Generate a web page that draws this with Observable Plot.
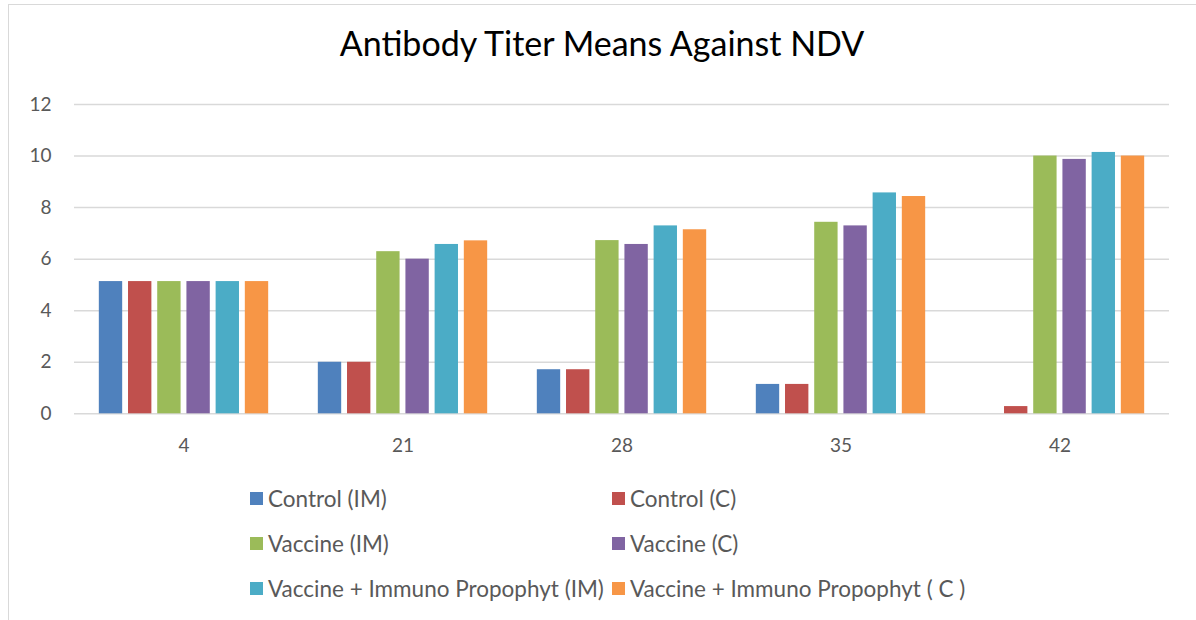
<!DOCTYPE html>
<html>
<head>
<meta charset="utf-8">
<script src="https://cdn.jsdelivr.net/npm/d3@7"></script>
<script src="https://cdn.jsdelivr.net/npm/@observablehq/plot@0.6"></script>
<style>
  html, body { margin: 0; padding: 0; background: #fff; }
  #wrap { position: relative; width: 1196px; height: 620px; overflow: hidden; font-family: Lato, "Open Sans", sans-serif; }
  #frame { position: absolute; left: 8px; top: 4px; right: -10px; bottom: -10px; border-left: 1.5px solid #d9d9d9; border-top: 1.5px solid #d9d9d9; }
  #title { position: absolute; left: 0; width: 1204px; top: 22px; text-align: center; font-size: 34px; color: #000; }
  #chart { position: absolute; left: 0; top: 70px; }
  .leg { position: absolute; display: flex; align-items: center; font-size: 22.5px; color: #595959; white-space: nowrap; }
  .sw { width: 13px; height: 13px; margin-right: 5px; }
</style>
</head>
<body>
<div id="wrap">
  <div id="frame"></div>
  <div id="title">Antibody Titer Means Against NDV</div>
  <div id="chart"></div>
</div>
<script>
const days = [4, 21, 28, 35, 42];
const series = [
  "Control (IM)",
  "Control (C)",
  "Vaccine (IM)",
  "Vaccine (C)",
  "Vaccine + Immuno Propophyt (IM)",
  "Vaccine + Immuno Propophyt ( C )"
];
const colors = ["#4f81bd", "#c0504d", "#9bbb59", "#8064a2", "#4bacc6", "#f79646"];
const controlIM = [5.13, 2.0, 1.71, 1.14, 0];
const controlC = [5.13, 2.0, 1.71, 1.14, 0.28];
const vaccineIM = [5.13, 6.29, 6.72, 7.43, 10.0];
const vaccineC = [5.13, 6.0, 6.57, 7.29, 9.87];
const vipIM = [5.13, 6.57, 7.29, 8.57, 10.14];
const vipC = [5.13, 6.71, 7.14, 8.43, 10.0];
const yTicks = [0, 2, 4, 6, 8, 10, 12];

const seriesValues = [controlIM, controlC, vaccineIM, vaccineC, vipIM, vipC];
const rows = [];
days.forEach((d, i) => {
  series.forEach((s, j) => {
    rows.push({day: d, series: s, value: seriesValues[j][i]});
  });
});

const chart = Plot.plot({
  width: 1196,
  height: 400,
  marginTop: 34,
  marginBottom: 56.7,
  marginLeft: 73,
  marginRight: 26,
  style: {fontFamily: "Lato, 'Open Sans', sans-serif", fontSize: "19px", color: "#595959", background: "transparent"},
  fx: {domain: days, paddingInner: 0, paddingOuter: 0, label: null},
  x: {domain: series, paddingInner: 0.2, paddingOuter: 0.85, axis: null, round: false},
  y: {domain: [0, 12], label: null},
  color: {domain: series, range: colors},
  marks: [
    Plot.ruleY(yTicks, {stroke: "#d9d9d9", strokeWidth: 1.5}),
    Plot.axisY({ticks: yTicks, tickSize: 0, tickPadding: 23, fontSize: 19, fill: "#595959", label: null}),
    Plot.barY(rows, {fx: "day", x: "series", y: "value", fill: "series"}),
    Plot.axisFx({anchor: "bottom", tickSize: 0, tickPadding: 25, fontSize: 19, label: null, fill: "#595959"})
  ]
});
document.getElementById("chart").appendChild(chart);

// legend (2 columns, 3 rows)
const wrap = document.getElementById("wrap");
const colX = [250, 612];
const rowY = [498, 543, 588];
series.forEach((s, i) => {
  const el = document.createElement("div");
  el.className = "leg";
  el.style.left = colX[i % 2] + "px";
  el.style.top = (rowY[Math.floor(i / 2)] - 14) + "px";
  el.style.height = "28px";
  const sw = document.createElement("div");
  sw.className = "sw";
  sw.style.background = colors[i];
  const t = document.createElement("span");
  t.textContent = s;
  el.appendChild(sw);
  el.appendChild(t);
  wrap.appendChild(el);
});
</script>
</body>
</html>
